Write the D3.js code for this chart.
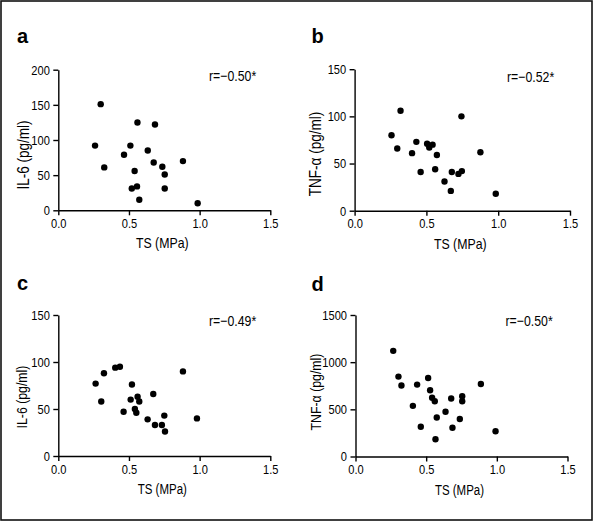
<!DOCTYPE html>
<html>
<head>
<meta charset="utf-8">
<script src="https://cdn.jsdelivr.net/npm/d3@7"></script>
<style>
  html, body { margin: 0; padding: 0; background: #fff; }
  svg { display: block; }
  text { font-family: "Liberation Sans", Arial, sans-serif; fill: #000; }
</style>
</head>
<body>
<svg id="chart" width="594" height="522"></svg>
<script>
// ---------- data ----------
const panelLetters = ["a", "b", "c", "d"];
const yTitles = ["IL-6 (pg/ml)", "TNF-α (pg/ml)", "IL-6 (pg/ml)", "TNF-α (pg/ml)"];
const xTitle = "TS (MPa)";
const rLabels = ["r=−0.50*", "r=−0.52*", "r=−0.49*", "r=−0.50*"];
const xTicks = [0.0, 0.5, 1.0, 1.5];
const yTicksA = [0, 50, 100, 150, 200];
const yTicksB = [0, 50, 100, 150];
const yTicksC = [0, 50, 100, 150];
const yTicksD = [0, 500, 1000, 1500];

const tsA = [0.30, 0.26, 0.325, 0.465, 0.51, 0.56, 0.54, 0.52, 0.557, 0.573, 0.633, 0.684, 0.675, 0.736, 0.753, 0.753, 0.882, 0.986];
const il6A = [151, 92, 61, 79, 92, 125, 56, 31, 34, 15, 85, 122, 68, 62, 51, 31, 70, 10];

const tsB = [0.257, 0.32, 0.297, 0.40, 0.43, 0.46, 0.505, 0.52, 0.543, 0.561, 0.573, 0.626, 0.67, 0.677, 0.723, 0.747, 0.744, 0.876, 0.983];
const tnfB = [80, 106, 66, 61, 73, 41, 71, 67, 70, 44, 59, 31, 21, 41, 39, 42, 100, 62, 18];

const tsC = [0.264, 0.304, 0.323, 0.403, 0.436, 0.462, 0.521, 0.512, 0.542, 0.552, 0.561, 0.573, 0.632, 0.672, 0.684, 0.733, 0.75, 0.755, 0.882, 0.981];
const il6C = [77, 58, 88, 94, 95, 47, 76, 60, 50, 46, 63, 58, 39, 66, 33, 33, 43, 26, 90, 40];

const tsD = [0.267, 0.304, 0.325, 0.406, 0.436, 0.462, 0.514, 0.528, 0.542, 0.561, 0.566, 0.575, 0.637, 0.677, 0.686, 0.738, 0.755, 0.755, 0.887, 0.991];
const tnfD = [1120, 847, 752, 537, 762, 316, 832, 702, 622, 586, 183, 414, 474, 615, 305, 397, 639, 586, 769, 267];

// ---------- layout ----------
const panels = [
  { ts: tsA, vals: il6A, yTicks: yTicksA, x0: 58.3, x1: 270.3, yTop: 69.7, yBot: 210.3,
    letterX: 17, letterY: 43, letterFont: "Liberation Sans", rX: 209, rY: 81,
    yTitleX: 23.5, yTitleY: 155, yTitleSize: 16.5, xTitleSize: 15 },
  { ts: tsB, vals: tnfB, yTicks: yTicksB, x0: 354.6, x1: 570, yTop: 69.2, yBot: 210.7,
    letterX: 311.5, letterY: 43, letterFont: "Liberation Serif", rX: 507, rY: 81.5,
    yTitleX: 315.5, yTitleY: 154, yTitleSize: 16.5, xTitleSize: 15 },
  { ts: tsC, vals: il6C, yTicks: yTicksC, x0: 58.3, x1: 270.3, yTop: 315, yBot: 456,
    letterX: 17, letterY: 290, letterFont: "Liberation Sans", rX: 209, rY: 326,
    yTitleX: 21.8, yTitleY: 397, yTitleSize: 15, xTitleSize: 14 },
  { ts: tsD, vals: tnfD, yTicks: yTicksD, x0: 355.5, x1: 567.5, yTop: 315, yBot: 456.5,
    letterX: 311.5, letterY: 290.5, letterFont: "Liberation Serif", rX: 505.5, rY: 326,
    yTitleX: 315.5, yTitleY: 392, yTitleSize: 15, xTitleSize: 14 }
];

const NARROW = 0.82;
function condense(sel) {
  sel.each(function () {
    const len = this.getComputedTextLength();
    d3.select(this).attr("textLength", len * NARROW).attr("lengthAdjust", "spacingAndGlyphs");
  });
}

const svg = d3.select("#chart");

// outer frame
svg.append("rect")
  .attr("x", 1).attr("y", 1).attr("width", 591).attr("height", 519)
  .attr("fill", "none").attr("stroke", "#111").attr("stroke-width", 1.6);

panels.forEach((p, i) => {
  const x = d3.scaleLinear().domain([0, 1.5]).range([p.x0, p.x1]);
  const yMax = d3.max(p.yTicks);
  const y = d3.scaleLinear().domain([0, yMax]).range([p.yBot, p.yTop]);
  const g = svg.append("g");

  const xAxis = d3.axisBottom(x).tickValues(xTicks).tickFormat(d3.format(".1f"))
    .tickSize(5).tickSizeOuter(0).tickPadding(3);
  const yAxis = d3.axisLeft(y).tickValues(p.yTicks).tickFormat(d3.format("d"))
    .tickSize(5).tickSizeOuter(0).tickPadding(3.5);

  const gx = g.append("g").attr("transform", `translate(0,${p.yBot})`).call(xAxis);
  const gy = g.append("g").attr("transform", `translate(${p.x0},0)`).call(yAxis);
  [gx, gy].forEach(a => {
    a.select(".domain").attr("stroke", "#000").attr("stroke-width", 1.4);
    a.selectAll(".tick line").attr("stroke", "#000").attr("stroke-width", 1.4);
    a.selectAll(".tick text").attr("font-size", 13.5)
      .attr("font-family", "'Liberation Sans', Arial, sans-serif")
      .attr("fill", "#000")
      .call(condense);
  });

  // points
  g.selectAll("circle.pt").data(p.ts.map((t, k) => [t, p.vals[k]]))
    .join("circle").attr("class", "pt")
    .attr("cx", d => x(d[0])).attr("cy", d => y(d[1]))
    .attr("r", 3.2).attr("fill", "#000");

  // x title
  g.append("text")
    .attr("x", (p.x0 + p.x1) / 2 - 2).attr("y", p.yBot + 38)
    .attr("text-anchor", "middle").attr("font-size", p.xTitleSize)
    .text(xTitle).call(condense);

  // y title
  g.append("text")
    .attr("transform", `translate(${p.yTitleX + 5},${p.yTitleY}) rotate(-90)`)
    .attr("text-anchor", "middle").attr("font-size", p.yTitleSize)
    .text(yTitles[i]).call(condense);

  // r label
  g.append("text")
    .attr("x", p.rX).attr("y", p.rY)
    .attr("font-size", 15)
    .text(rLabels[i]).call(condense);

  // panel letter
  g.append("text")
    .attr("x", p.letterX).attr("y", p.letterY)
    .attr("font-size", 20).attr("font-weight", "bold")
    .attr("font-family", p.letterFont)
    .text(panelLetters[i]);
});
</script>
</body>
</html>
